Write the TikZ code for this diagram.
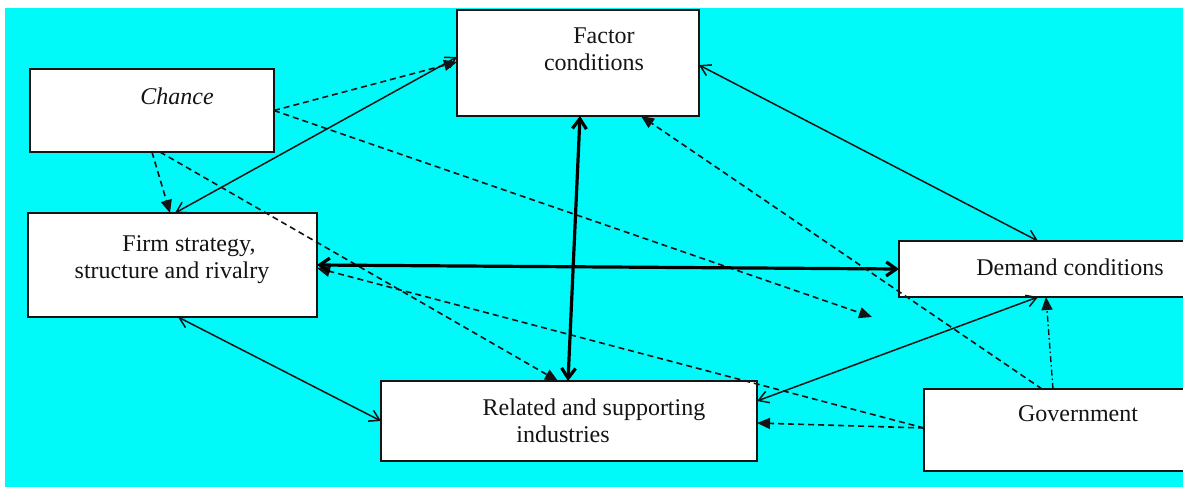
\documentclass[tikz,border=0pt]{standalone}
\usepackage{fontspec}
\setmainfont{Liberation Serif}
\usetikzlibrary{arrows.meta}
\definecolor{bgcyan}{RGB}{0,250,250}
\definecolor{ink}{RGB}{20,20,20}
\tikzset{
  box/.style={draw=ink, line width=1.8pt, fill=white, inner sep=0pt, outer sep=0pt, anchor=north west},
  lbl/.style={font=\fontsize{24}{28}\selectfont, anchor=base, inner sep=0pt, text=ink},
  thin/.style={draw=ink, line width=1.5pt, {Straight Barb[length=10pt,width=12pt]}-{Straight Barb[length=10pt,width=12pt]}},
  thick/.style={draw=black, line width=3.2pt, {Straight Barb[length=10pt,width=14pt]}-{Straight Barb[length=10pt,width=14pt]}},
  dsh/.style={draw=ink, line width=1.6pt, dash pattern=on 6pt off 4pt, -{Triangle[length=13pt,width=11pt]}},
  dshdot/.style={draw=ink, line width=1.4pt, dash pattern=on 6pt off 3pt on 1.5pt off 3pt, -{Triangle[length=13pt,width=11pt]}}
}
\begin{document}
\begin{tikzpicture}[x=1pt,y=-1pt]
\useasboundingbox (0,0) rectangle (1183,493);
\clip (0,0) rectangle (1183,493);
\fill[white] (0,0) rectangle (1183,493);
\fill[bgcyan] (5,8) rectangle (1190,487);
% boxes
\node[box, minimum width=242pt, minimum height=106pt] (factor) at (457,10) {};
\node[box, minimum width=244pt, minimum height=83pt] (chance) at (30,69) {};
\node[box, minimum width=289pt, minimum height=104pt] (firm) at (28,213) {};
\node[box, minimum width=300pt, minimum height=56pt] (demand) at (899,241) {};
\node[box, minimum width=376pt, minimum height=80pt] (related) at (381,381) {};
\node[box, minimum width=280pt, minimum height=82pt] (gov) at (924,389) {};
\coordinate (c3) at (872,317);
% connectors
\draw[thin] ([xshift=147pt]firm.north west) -- ([yshift=6pt]factor.west);
\draw[dsh] (chance.east) -- ([yshift=1pt]factor.west);
\draw[dsh] (chance.east) -- (c3);
\draw[dsh] (chance.south) -- ([xshift=142pt]firm.north west);
\draw[dsh] ([xshift=8pt]chance.south) -- ([xshift=177pt]related.north west);
\draw[dsh] ([yshift=2pt]gov.west) -- ([yshift=-3pt]firm.east);
\draw[thick] (firm.east) -- (demand.west);
\draw[thick] ([xshift=123pt]factor.south west) -- ([xshift=187pt]related.north west);
\draw[thin] ([yshift=-2pt]factor.east) -- ([xshift=139pt]demand.north west);
\draw[thin] ([xshift=150pt]firm.south west) -- (related.west);
\draw[thin] ([yshift=20pt]related.east) -- ([xshift=139pt]demand.south west);
\draw[dshdot] ([xshift=129pt]gov.north west) -- ([xshift=147pt]demand.south west);
\draw[dsh] ([xshift=118pt]gov.north west) -- ([xshift=184pt]factor.south west);
\draw[dsh] ([yshift=2pt]gov.west) -- ([yshift=-2pt]related.east);
% texts
\node[lbl] (t1) at (604,43) {Factor};
\node[lbl] (t2) at (594,70) {conditions};
\node[lbl] (t3) at (177,104) {\itshape Chance};
\node[lbl] (t4) at (189,251) {Firm strategy,};
\node[lbl] (t5) at (172,278) {structure and rivalry};
\node[lbl] (t6) at (1070,275) {Demand conditions};
\node[lbl] (t7) at (594,415) {Related and supporting};
\node[lbl] (t8) at (563,442) {industries};
\node[lbl] (t9) at (1078,421) {Government};
\end{tikzpicture}
\end{document}
